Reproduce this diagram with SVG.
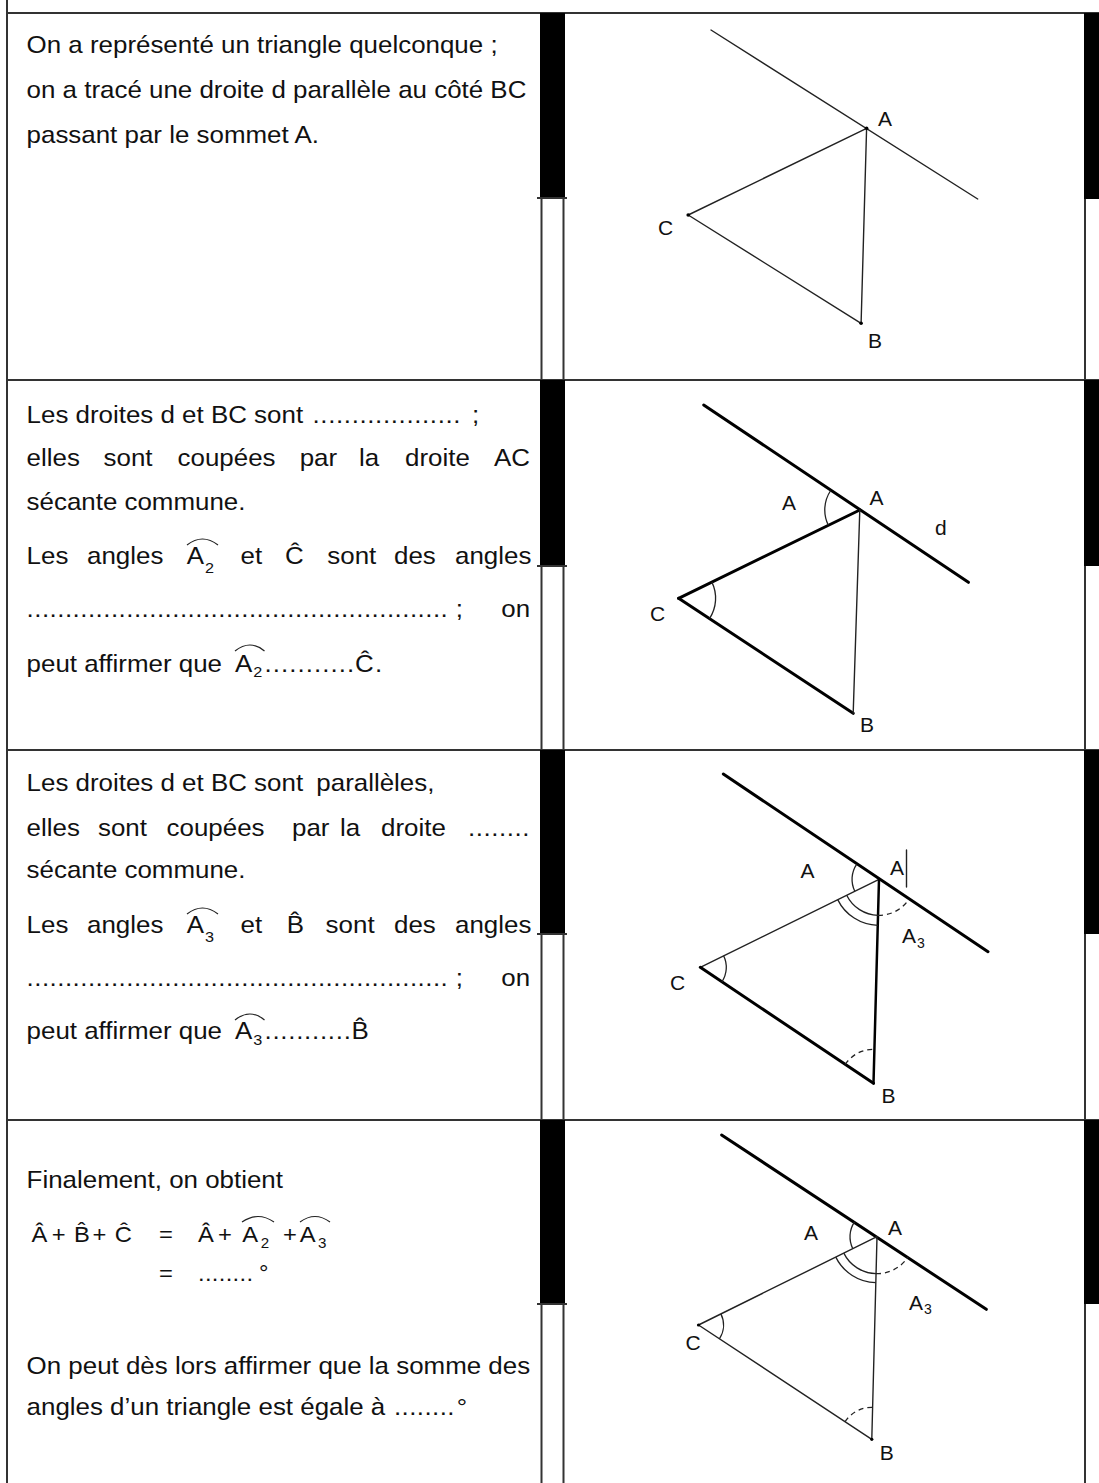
<svg xmlns="http://www.w3.org/2000/svg" width="1099" height="1483" viewBox="0 0 1099 1483">
<style>
.t{font-family:"Liberation Sans",Arial,sans-serif;font-size:24px;fill:#111}
.m{font-size:22px}
.sub{font-size:15px}
.lbl{font-family:"Liberation Sans",Arial,sans-serif;font-size:21px;fill:#111}
.lsub{font-family:"Liberation Sans",Arial,sans-serif;font-size:14px;fill:#111}
.grid{stroke:#333;stroke-width:2;fill:none}
.bar{fill:#000}
.thin{stroke:#222;stroke-width:1.4;fill:none;stroke-linecap:round}
.thick{stroke:#000;stroke-width:3;fill:none;stroke-linecap:round}
.mid{stroke:#000;stroke-width:2.5;fill:none;stroke-linecap:round}
.arc{stroke:#222;stroke-width:1.3;fill:none}
.dash{stroke-dasharray:5 4}
.acc{stroke:#222;stroke-width:1.2;fill:none}
.pt{fill:#000}
</style>
<rect width="1099" height="1483" fill="#fff"/>

<g id="table">
  <line class="grid" x1="7" y1="0" x2="7" y2="1483"/>
  <line class="grid" x1="7" y1="13" x2="1099" y2="13"/>
  <line class="grid" x1="7" y1="380" x2="1099" y2="380"/>
  <line class="grid" x1="7" y1="750" x2="1099" y2="750"/>
  <line class="grid" x1="7" y1="1120" x2="1099" y2="1120"/>
  <line class="grid" x1="541.5" y1="13" x2="541.5" y2="1483"/>
  <line class="grid" x1="563.5" y1="13" x2="563.5" y2="1483"/>
  <line class="grid" x1="1085" y1="13" x2="1085" y2="1483"/>
  <rect class="bar" x="540" y="13" width="25" height="185"/>
  <rect class="bar" x="540" y="380" width="25" height="186"/>
  <rect class="bar" x="540" y="750" width="25" height="184"/>
  <rect class="bar" x="540" y="1120" width="25" height="184"/>
  <line class="grid" x1="537" y1="198" x2="567" y2="198"/>
  <line class="grid" x1="537" y1="566" x2="567" y2="566"/>
  <line class="grid" x1="537" y1="934" x2="567" y2="934"/>
  <line class="grid" x1="537" y1="1304" x2="567" y2="1304"/>
  <rect class="bar" x="1084" y="13" width="15" height="186"/>
  <rect class="bar" x="1084" y="380" width="15" height="186"/>
  <rect class="bar" x="1084" y="750" width="15" height="184"/>
  <rect class="bar" x="1084" y="1120" width="15" height="184"/>
</g>

<g id="text1" transform="scale(1.08 1)">
  <text class="t" x="24.6" y="53.3">On a représenté un triangle quelconque ;</text>
  <text class="t" x="24.6" y="97.7">on a tracé une droite d parallèle au côté BC</text>
  <text class="t" x="24.6" y="142.7">passant par le sommet A.</text>
</g>

<g id="text2" transform="scale(1.08 1)">
  <text class="t" x="24.6" y="422.7">Les droites d et BC sont</text>
  <text class="t" x="289.4" y="422.7" textLength="137" lengthAdjust="spacing">...................</text>
  <text class="t" x="437" y="422.7">;</text>
  <text class="t" y="466"><tspan x="24.6">elles</tspan><tspan x="95.9">sont</tspan><tspan x="164.4">coupées</tspan><tspan x="277.5">par</tspan><tspan x="332.3">la</tspan><tspan x="375">droite</tspan><tspan x="457.3">AC</tspan></text>
  <text class="t" x="24.6" y="510">sécante commune.</text>
  <text class="t" y="564.3"><tspan x="24.6">Les</tspan><tspan x="80.6">angles</tspan><tspan x="173">A</tspan><tspan x="189.8" y="572.7" class="sub">2</tspan><tspan x="222.7" y="564.3">et</tspan><tspan x="263.8">Ĉ</tspan><tspan x="303.1">sont</tspan><tspan x="364.8">des</tspan><tspan x="421.3">angles</tspan></text>
  <text class="t" x="24.6" y="616.7" textLength="390" lengthAdjust="spacing">.......................................................</text>
  <text class="t" y="616.7"><tspan x="422">;</tspan><tspan x="464.2">on</tspan></text>
  <text class="t" y="671.7"><tspan x="24.6">peut affirmer que</tspan><tspan x="217.6">A</tspan><tspan x="234.6" y="677.5" class="sub">2</tspan></text>
  <text class="t" x="244.9" y="671.7" textLength="83" lengthAdjust="spacing">...........</text>
  <text class="t" y="671.7"><tspan x="328.7">Ĉ</tspan><tspan x="347.2">.</tspan></text>
</g>
<g id="accents2">
  <path class="acc" d="M187 545 Q202.5 533 218 545"/>
  <path class="acc" d="M235 651 Q250 639 264.5 651"/>
</g>

<g id="text3" transform="scale(1.08 1)">
  <text class="t" y="790.7"><tspan x="24.6">Les droites d et BC sont</tspan><tspan x="292.9">parallèles,</tspan></text>
  <text class="t" y="836"><tspan x="24.6">elles</tspan><tspan x="90.7">sont</tspan><tspan x="154.2">coupées</tspan><tspan x="270.4">par</tspan><tspan x="314.8">la</tspan><tspan x="352.8">droite</tspan></text>
  <text class="t" x="433.3" y="836" textLength="57" lengthAdjust="spacing">........</text>
  <text class="t" x="24.6" y="878.3">sécante commune.</text>
  <text class="t" y="933.3"><tspan x="24.6">Les</tspan><tspan x="80.6">angles</tspan><tspan x="173">A</tspan><tspan x="189.8" y="942" class="sub">3</tspan><tspan x="222.7" y="933.3">et</tspan><tspan x="265.5">B&#x302;</tspan><tspan x="301.5">sont</tspan><tspan x="364.8">des</tspan><tspan x="421.3">angles</tspan></text>
  <text class="t" x="24.6" y="986" textLength="390" lengthAdjust="spacing">.......................................................</text>
  <text class="t" y="986"><tspan x="422">;</tspan><tspan x="464.2">on</tspan></text>
  <text class="t" y="1039.3"><tspan x="24.6">peut affirmer que</tspan><tspan x="217.6">A</tspan><tspan x="234.6" y="1045" class="sub">3</tspan></text>
  <text class="t" x="244.9" y="1039.3" textLength="80" lengthAdjust="spacing">...........</text>
  <text class="t" x="325.5" y="1039.3">B&#x302;</text>
</g>
<g id="accents3">
  <path class="acc" d="M187 914 Q202.5 902 218 914"/>
  <path class="acc" d="M235 1020 Q250 1008 264.5 1020"/>
</g>

<g id="text4" transform="scale(1.08 1)">
  <text class="t" x="24.6" y="1188.3">Finalement, on obtient</text>
  <text class="t m" y="1241.7"><tspan x="29.1">Â</tspan><tspan x="48">+</tspan><tspan x="68.5">B&#x302;</tspan><tspan x="85.6">+</tspan><tspan x="106.2">Ĉ</tspan><tspan x="147.2">=</tspan><tspan x="183.3">Â</tspan><tspan x="201.9">+</tspan><tspan x="224.4">A</tspan><tspan x="241.5" y="1248" font-size="14">2</tspan><tspan x="262" y="1241.7">+</tspan><tspan x="277.5">A</tspan><tspan x="294.4" y="1248" font-size="14">3</tspan></text>
  <text class="t m" x="147.2" y="1280.7">=</text>
  <text class="t m" x="183.3" y="1280.7" textLength="51" lengthAdjust="spacing">........</text>
  <text class="t m" x="239.8" y="1280.7">°</text>
  <text class="t" x="24.6" y="1374">On peut dès lors affirmer que la somme des</text>
  <text class="t" x="24.6" y="1415">angles d’un triangle est égale à</text>
  <text class="t" x="364.8" y="1415" textLength="56" lengthAdjust="spacing">........</text>
  <text class="t" x="423" y="1415">°</text>
</g>
<g id="accents4">
  <path class="acc" d="M242 1222 Q258 1211 274 1222"/>
  <path class="acc" d="M300 1222 Q315 1211 330 1222"/>
</g>

<g id="fig1">
  <line class="thin" x1="711" y1="30" x2="977.7" y2="199"/>
  <line class="thin" x1="688.2" y1="215" x2="866.6" y2="128.3"/>
  <line class="thin" x1="688.2" y1="215" x2="861.1" y2="323.3"/>
  <line class="thin" x1="866.6" y1="128.3" x2="861.1" y2="323.3"/>
  <circle class="pt" cx="866.6" cy="128.3" r="1.8"/>
  <circle class="pt" cx="688.2" cy="215" r="1.8"/>
  <circle class="pt" cx="861.1" cy="323.3" r="1.8"/>
  <text class="lbl" x="878" y="126">A</text>
  <text class="lbl" x="658" y="235">C</text>
  <text class="lbl" x="868" y="348">B</text>
</g>

<g id="fig2">
  <line class="thick" x1="703.7" y1="405" x2="968.4" y2="582.3"/>
  <line class="thick" x1="678.6" y1="598.3" x2="859.8" y2="510"/>
  <line class="thick" x1="678.6" y1="598.3" x2="853.2" y2="713.3"/>
  <line class="thin" x1="859.8" y1="510" x2="853.2" y2="713.3"/>
  <path class="arc" d="M830.7 490.5 A35 35 0 0 0 828.3 525.3"/>
  <path class="arc" d="M711.9 582.1 A37 37 0 0 1 709.5 618.6"/>
  <text class="lbl" x="782" y="510">A</text>
  <text class="lbl" x="869.5" y="505">A</text>
  <text class="lbl" x="935" y="535">d</text>
  <text class="lbl" x="650" y="620.7">C</text>
  <text class="lbl" x="860" y="731.7">B</text>
</g>

<g id="fig3">
  <line class="thick" x1="723.3" y1="774" x2="988" y2="951.7"/>
  <line class="thin" x1="700.3" y1="967.3" x2="879" y2="879.3"/>
  <line class="thick" x1="700.3" y1="967.3" x2="873.5" y2="1083.3"/>
  <line class="mid" x1="879" y1="879.3" x2="873.5" y2="1083.3"/>
  <path class="arc" d="M856.6 864.3 A27 27 0 0 0 854.8 891.2"/>
  <path class="arc" d="M846.7 895.2 A36 36 0 0 0 878 915.3"/>
  <path class="arc" d="M837.7 899.6 A46 46 0 0 0 877.8 925.3"/>
  <path class="arc dash" d="M878 915.3 A36 36 0 0 0 908.9 899.4"/>
  <path class="arc dash" d="M845.2 1064.4 A34 34 0 0 1 874.4 1049.3"/>
  <path class="arc" d="M723.6 955.8 A26 26 0 0 1 721.9 981.8"/>
  <line class="thin" x1="906.5" y1="850" x2="906.5" y2="887"/>
  <text class="lbl" x="800.6" y="878">A</text>
  <text class="lbl" x="890" y="875">A</text>
  <text class="lbl" x="902" y="943.3">A</text>
  <text class="lsub" x="917" y="947.5">3</text>
  <text class="lbl" x="670" y="990">C</text>
  <text class="lbl" x="881.5" y="1103">B</text>
</g>

<g id="fig4">
  <line class="thick" x1="721.6" y1="1135" x2="986.3" y2="1309.3"/>
  <line class="thin" x1="698.5" y1="1325" x2="877" y2="1236.7"/>
  <line class="thin" x1="698.5" y1="1325" x2="871.8" y2="1439.3"/>
  <line class="thin" x1="877" y1="1236.7" x2="871.8" y2="1439.3"/>
  <path class="arc" d="M854.5 1221.8 A27 27 0 0 0 852.8 1248.7"/>
  <path class="arc" d="M843.8 1253.1 A37 37 0 0 0 876 1273.7"/>
  <path class="arc" d="M835.8 1257.1 A46 46 0 0 0 875.8 1282.7"/>
  <path class="arc dash" d="M876 1273.7 A37 37 0 0 0 907.9 1257.1"/>
  <path class="arc dash" d="M845.1 1421.7 A32 32 0 0 1 872.6 1407.3"/>
  <path class="arc" d="M720.9 1313.9 A25 25 0 0 1 719.4 1338.8"/>
  <circle class="pt" cx="698.5" cy="1325" r="1.6"/>
  <circle class="pt" cx="871.8" cy="1439.3" r="1.6"/>
  <text class="lbl" x="804" y="1240">A</text>
  <text class="lbl" x="888" y="1235">A</text>
  <text class="lbl" x="909" y="1310">A</text>
  <text class="lsub" x="924" y="1314">3</text>
  <text class="lbl" x="685.5" y="1350">C</text>
  <text class="lbl" x="879.7" y="1460">B</text>
</g>
</svg>
